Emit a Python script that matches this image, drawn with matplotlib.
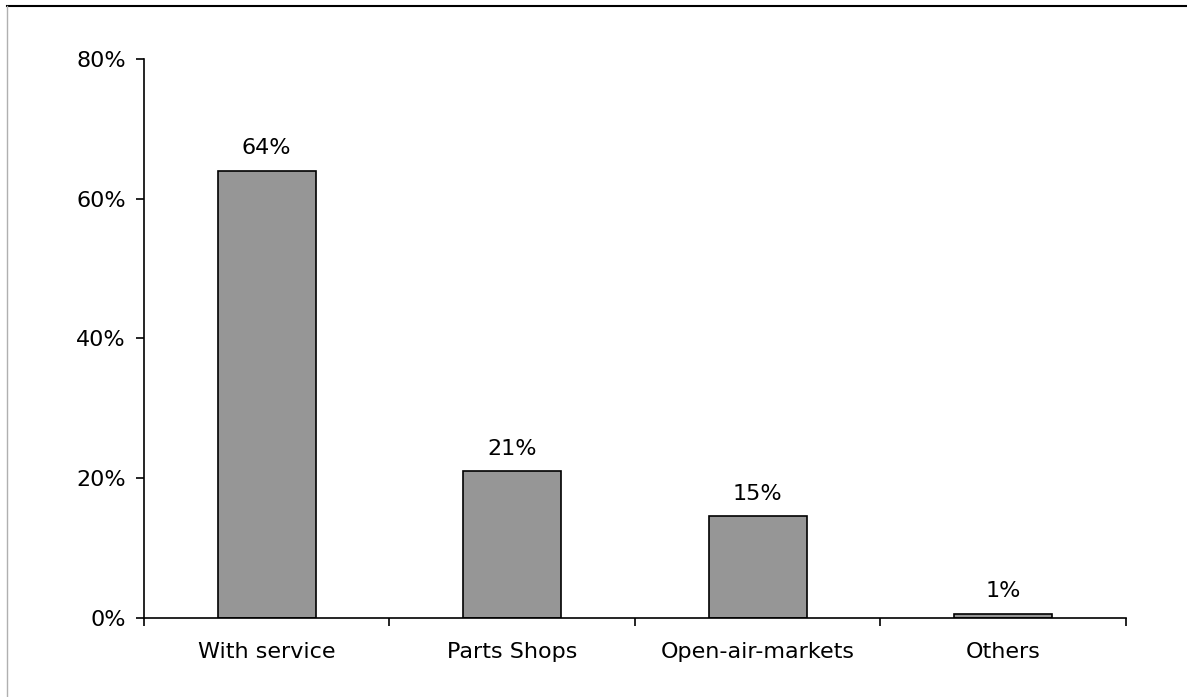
import matplotlib.pyplot as plt
from matplotlib.lines import Line2D

# share of purchases by outlet type (%)
categories = ["With service", "Parts Shops", "Open-air-markets", "Others"]
shares = [64.0, 21.0, 14.6, 0.6]
y_ticks = [0, 20, 40, 60, 80]
y_labels = ["0%", "20%", "40%", "60%", "80%"]

fig = plt.figure(figsize=(11.87, 6.97), dpi=100)
ax = fig.add_axes([0.1213, 0.1133, 0.9486 - 0.1213, 0.9154 - 0.1133])

x = range(len(categories))
bars = ax.bar(x, shares, width=0.4, color="#969696", edgecolor="black", linewidth=1.2)

for b, v in zip(bars, shares):
    ax.annotate("%.0f%%" % v, (b.get_x() + b.get_width() / 2, v),
                xytext=(0, 9), textcoords="offset points",
                ha="center", va="bottom", fontsize=16)

ax.set_xlim(-0.5, len(categories) - 0.5)
ax.set_ylim(0, 80)
ax.set_yticks(y_ticks)
ax.set_yticklabels(y_labels, fontsize=16)

# ticks sit on category boundaries, labels in the middle
ax.set_xticks([i - 0.5 for i in range(len(categories) + 1)])
ax.set_xticklabels([])
ax.set_xticks(list(x), minor=True)
ax.set_xticklabels(categories, minor=True, fontsize=16)
ax.tick_params(axis="x", which="minor", length=0, pad=17)
ax.tick_params(axis="x", which="major", direction="out", length=6, width=1.2)
ax.tick_params(axis="y", direction="out", length=6, width=1.2, pad=7)

for s in ["top", "right"]:
    ax.spines[s].set_visible(False)
for s in ["left", "bottom"]:
    ax.spines[s].set_linewidth(1.2)

# outer frame lines
fig.add_artist(Line2D([7 / 1187, 1], [1 - 6 / 697, 1 - 6 / 697], color="black", linewidth=1.5))
fig.add_artist(Line2D([7 / 1187, 7 / 1187], [0, 1 - 6 / 697], color="#b0b0b0", linewidth=1.0))

fig.savefig("out.png", dpi=100)
